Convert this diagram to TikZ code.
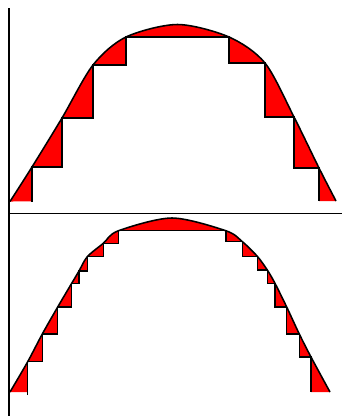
\documentclass[tikz,border=0pt]{standalone}

% curves and lower step sums, coordinates in pixels
\newcommand\topcurve{plot[smooth] coordinates {(10,201.5) (32,167) (62,118) (93,65) (126,37) (177.5,24.5) (229,37) (265,63) (294,117) (319,168) (336,201)}}
\newcommand\topsteps{-- (32,167) -- (62,167) -- (62,118) -- (93,118) -- (93,65) -- (126,65) -- (126,37) -- (229,37) -- (229,63) -- (265,63) -- (265,117) -- (294,117) -- (294,168) -- (319,168) -- (319,201)}

\newcommand\lowcurve{plot[smooth] coordinates {(10,392) (27.7,361.7) (42.3,334) (57.7,307) (71.7,283.3) (79,271) (87.3,256.7) (103.3,243.3) (118.3,230.8) (172,218) (226,230.8) (242.5,241.8) (257.3,256.3) (267.3,270) (275,283.3) (286.7,307) (299.3,334) (311,357) (330,392)}}
\newcommand\lowsteps{-- (27.7,361.7) -- (42.3,361.7) -- (42.3,334) -- (57.7,334) -- (57.7,307) -- (71.7,307) -- (71.7,283.3) -- (79,283.3) -- (79,271) -- (87.3,271) -- (87.3,256.7) -- (103.3,256.7) -- (103.3,243.3) -- (118.3,243.3) -- (118.3,230.8) -- (226,230.8) -- (226,241.8) -- (242.5,241.8) -- (242.5,256.3) -- (257.3,256.3) -- (257.3,270) -- (267.3,270) -- (267.3,283.3) -- (275,283.3) -- (275,307) -- (286.7,307) -- (286.7,334) -- (299.3,334) -- (299.3,357) -- (311,357) -- (311,392)}

\begin{document}
\begin{tikzpicture}[x=0.025cm, y=-0.025cm,
    curve/.style={line width=1.1pt, line join=round},
    stairs/.style={line width=0.8pt},
    axis/.style={line width=1.1pt}]
\useasboundingbox (0,0) rectangle (342,416);

% top panel
\begin{scope}
  \clip \topcurve -- cycle;
  \fill[red] (0,0) -- (0,205) -- (32,205) \topsteps -- (342,205) -- (342,0) -- cycle;
\end{scope}
\draw[stairs] (32,201.5) \topsteps;
\draw[curve] \topcurve;

% bottom panel
\begin{scope}
  \clip \lowcurve -- cycle;
  \fill[red] (0,214) -- (0,396) -- (27.7,396) \lowsteps -- (342,396) -- (342,214) -- cycle;
\end{scope}
\draw[stairs] (27.7,395) \lowsteps;
\draw[curve] \lowcurve;

% axes
\draw[axis] (9,8) -- (9,416);
\draw[axis] (8,213.5) -- (342,213.5);
\end{tikzpicture}
\end{document}
